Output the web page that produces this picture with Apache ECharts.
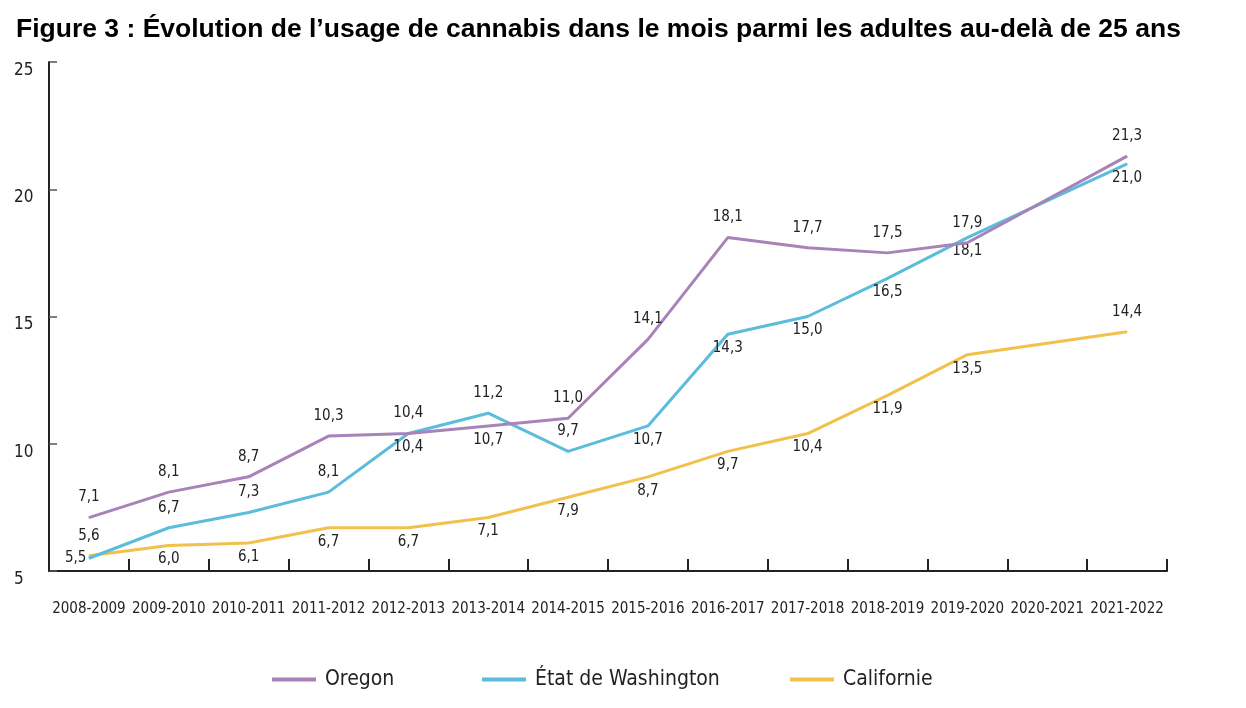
<!DOCTYPE html>
<html><head><meta charset="utf-8">
<script src="https://cdn.jsdelivr.net/npm/echarts@6/dist/echarts.min.js"></script>
<style>html,body{margin:0;padding:0;background:#fff}#c{width:1246px;height:708px}</style>
</head><body><div id="c"></div>
<script>
const categories = ['2008-2009','2009-2010','2010-2011','2011-2012','2012-2013','2013-2014','2014-2015','2015-2016','2016-2017','2017-2018','2018-2019','2019-2020','2020-2021','2021-2022'];
const oregon = [7.1, 8.1, 8.7, 10.3, 10.4, 10.7, 11.0, 14.1, 18.1, 17.7, 17.5, 17.9, null, 21.3];
const washington = [5.5, 6.7, 7.3, 8.1, 10.4, 11.2, 9.7, 10.7, 14.3, 15.0, 16.5, 18.1, null, 21.0];
const californie = [5.6, 6.0, 6.1, 6.7, 6.7, 7.1, 7.9, 8.7, 9.7, 10.4, 11.9, 13.5, null, 14.4];
const yTicks = [5, 10, 15, 20, 25];
const seriesNames = ['Oregon', 'État de Washington', 'Californie'];

// label placement (T = above, B = below, L = left)
const posOregon = 'TTTTTBTTTTTTTT';
const posWash   = 'LTTTBTTBBBBBBB';
const posCal    = 'TBBBBBBBBBBBBT';

const FONT = "'DejaVu Sans Condensed','DejaVu Sans',sans-serif";

function mk(vals, pos) {
  return vals.map((v, i) => {
    if (v === null) return null;
    const p = pos[i];
    const position = p === 'T' ? 'top' : (p === 'L' ? 'left' : 'bottom');
    const distance = p === 'T' ? 12 : (p === 'L' ? 2 : 6);
    return { value: v, label: { position, distance } };
  });
}

const chart = echarts.init(document.getElementById('c'));
const colors = ['#a783b9', '#5bbcdb', '#f2c14c'];
const labelStyle = {
  show: true, color: '#222', fontFamily: FONT, fontSize: 15,
  formatter: p => p.value.toFixed(1).replace('.', ',')
};
function ser(i, vals, pos) {
  return {
    name: seriesNames[i], type: 'line', data: mk(vals, pos), connectNulls: true,
    symbol: 'circle', symbolSize: 1, showSymbol: true,
    color: colors[i], lineStyle: { width: 3 }, label: labelStyle, z: 3 - i
  };
}
function leg(i, left) {
  return {
    left: left, top: 664, itemWidth: 44, itemHeight: 4, itemGap: 8, icon: 'rect',
    textStyle: { fontFamily: FONT, fontSize: 21, color: '#222', padding: [0, 0, 0, 4] },
    data: [seriesNames[i]]
  };
}
chart.setOption({
  animation: false,
  title: {
    text: 'Figure 3 : Évolution de l’usage de cannabis dans le mois parmi les adultes au-delà de 25 ans',
    left: 11, top: 11,
    textStyle: { fontFamily: "'Liberation Sans', Arial, sans-serif", fontWeight: 'bold', fontSize: 26.5, color: '#000' }
  },
  grid: { left: 49, right: 79, top: 62, bottom: 137 },
  legend: [ leg(0, 267), leg(1, 477), leg(2, 785) ],
  xAxis: {
    type: 'category', data: categories, boundaryGap: true,
    axisLine: { lineStyle: { color: '#222', width: 2 } },
    axisTick: { show: true, inside: true, length: 12, lineStyle: { color: '#222', width: 2 } },
    axisLabel: { fontFamily: FONT, fontSize: 15, color: '#222', margin: 31, interval: 0 }
  },
  yAxis: {
    type: 'value', min: yTicks[0], max: yTicks[yTicks.length - 1], interval: 5,
    splitLine: { show: false },
    axisLine: { show: true, lineStyle: { color: '#222', width: 2 } },
    axisTick: { show: true, inside: true, length: 8, lineStyle: { color: '#555', width: 1.5 } },
    axisLabel: { fontFamily: FONT, fontSize: 17, color: '#222', margin: 35, align: 'left', verticalAlign: 'top' }
  },
  series: [ ser(0, oregon, posOregon), ser(1, washington, posWash), ser(2, californie, posCal) ]
});
</script></body></html>
